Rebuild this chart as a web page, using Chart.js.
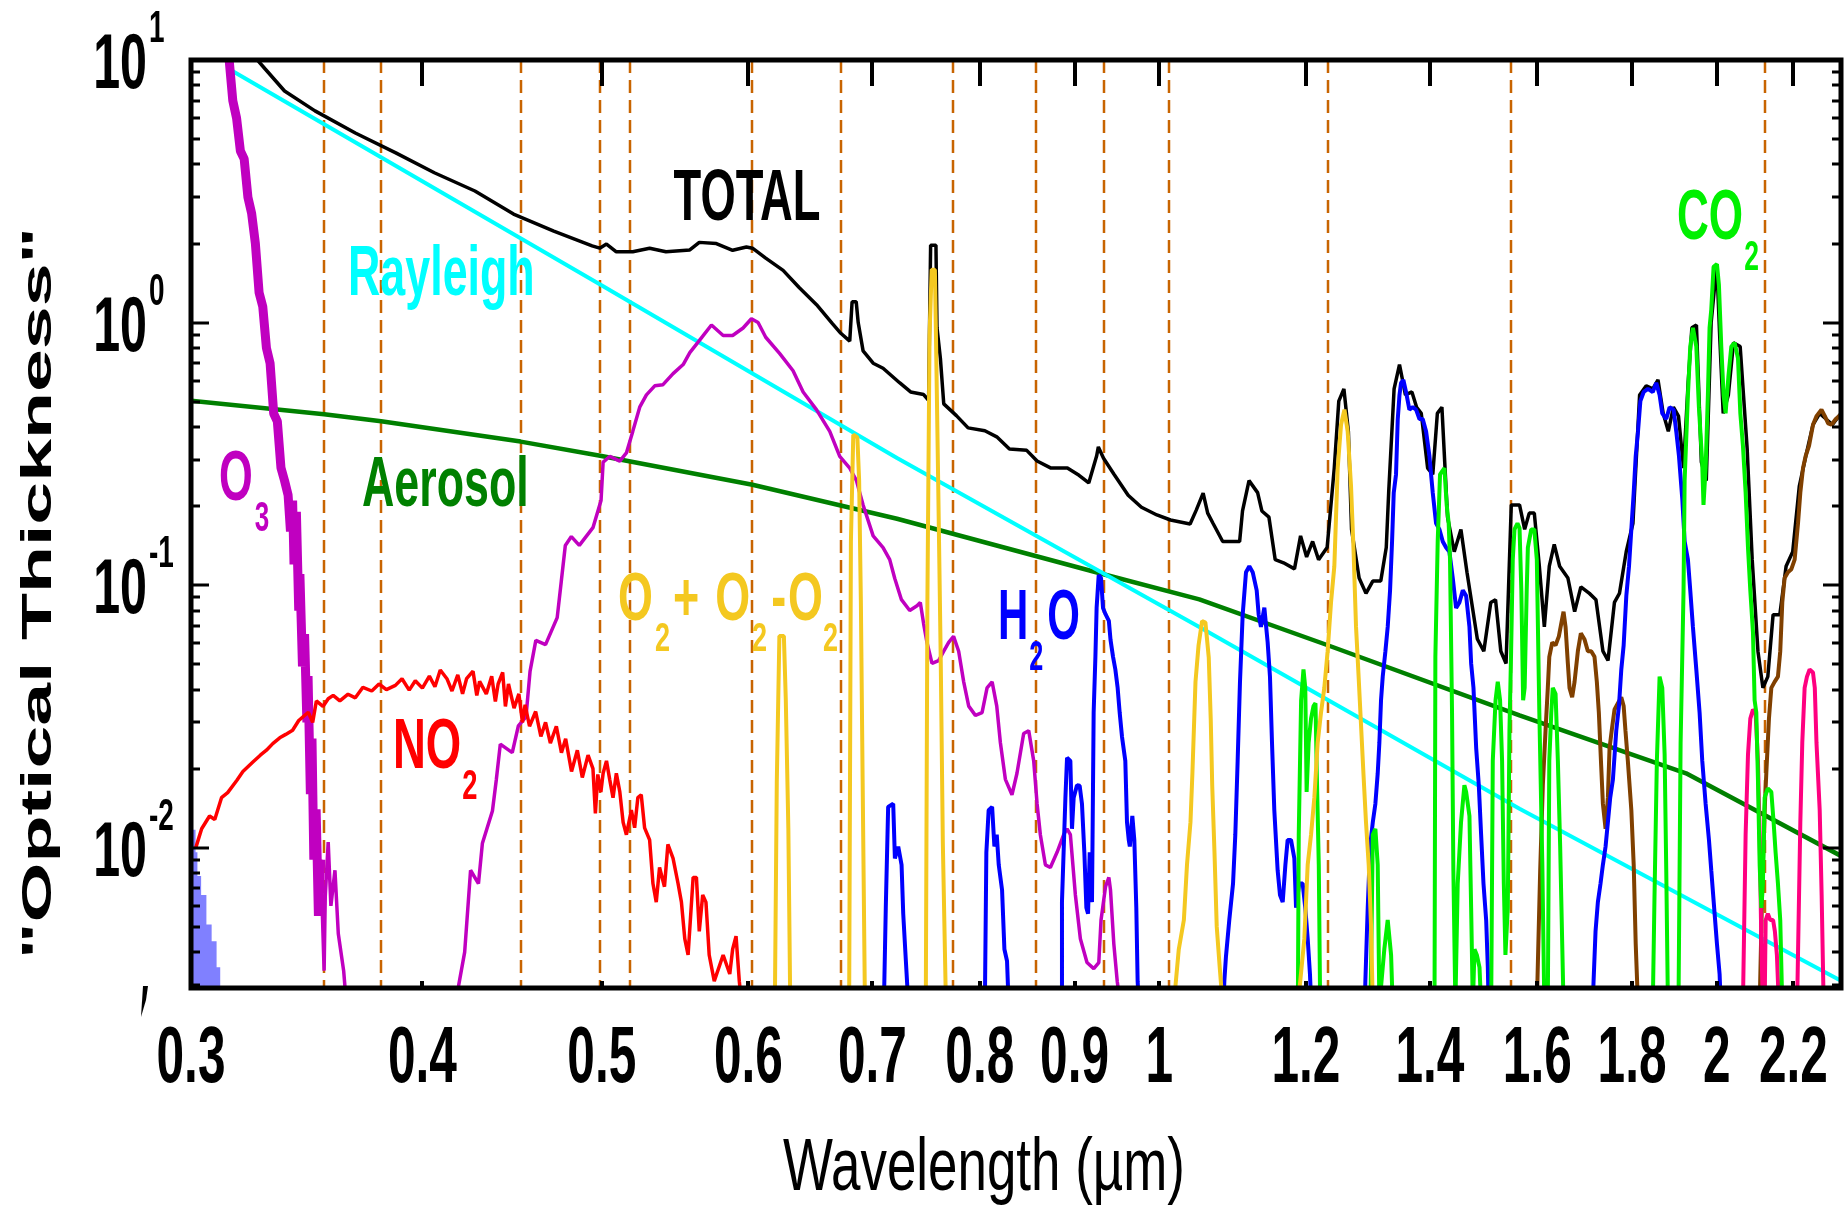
<!DOCTYPE html>
<html>
	<head>
		<meta charset="utf-8" />
		<script src="https://cdn.jsdelivr.net/npm/chart.js@4.4.0/dist/chart.umd.min.js"></script>
		<style>
			html, body { margin: 0; padding: 0; background: #fff; overflow: hidden; }
			#wrap { width: 1845px; height: 1207px; }
		</style>
		<title>Optical thickness spectrum</title>
	</head>
	<body>
		<div id="wrap"><canvas id="chart" width="1845" height="1207"></canvas></div>
		<script>
			// axis ranges (wavelength in um, optical thickness)
			const X_MIN = 0.3, X_MAX = 2.334;
			const Y_MIN = 0.00292, Y_MAX = 10;

			// tick values / labels
			const xTicks = [0.3, 0.4, 0.5, 0.6, 0.7, 0.8, 0.9, 1, 1.2, 1.4, 1.6, 1.8, 2, 2.2];
			const xTickLabels = ["0.3", "0.4", "0.5", "0.6", "0.7", "0.8", "0.9", "1", "1.2", "1.4", "1.6", "1.8", "2", "2.2"];
			const yMajor = [10, 1, 0.1, 0.01];
			const yExponents = ["1", "0", "-1", "-2"];
			const yMinor = [0.003, 0.004, 0.005, 0.006, 0.007, 0.008, 0.009,
				0.02, 0.03, 0.04, 0.05, 0.06, 0.07, 0.08, 0.09,
				0.2, 0.3, 0.4, 0.5, 0.6, 0.7, 0.8, 0.9,
				2, 3, 4, 5, 6, 7, 8, 9];

			// instrument channels (dashed lines)
			const channelWl = [0.354, 0.380, 0.452, 0.499, 0.518, 0.603, 0.673, 0.774, 0.858, 0.933, 1.012, 1.233, 1.549, 2.123];

			// series: [wavelength, optical thickness]
			const total = [[0.322, 11], [0.329, 9.24], [0.337, 7.62], [0.350, 6.40], [0.368, 5.27], [0.387, 4.43], [0.406, 3.72], [0.427, 3.17],
				[0.448, 2.59], [0.471, 2.23], [0.494, 1.96], [0.4987, 1.92], [0.5029, 1.99], [0.5091, 1.86], [0.5196, 1.86], [0.5306, 1.92],
				[0.5415, 1.86], [0.5578, 1.89], [0.5644, 2.02], [0.5765, 2.0], [0.5883, 1.885], [0.5985, 1.94], [0.603, 1.92], [0.613, 1.76],
				[0.6264, 1.58], [0.639, 1.36], [0.653, 1.17], [0.666, 0.99], [0.673, 0.91], [0.6805, 0.85], [0.6825, 1.20], [0.686, 1.20],
				[0.6877, 1.0], [0.6919, 0.78], [0.7006, 0.70], [0.7093, 0.67], [0.724, 0.59], [0.734, 0.544], [0.746, 0.532], [0.7506, 0.505],
				[0.7525, 1.97], [0.7575, 1.97], [0.7585, 0.955], [0.7617, 0.73], [0.7649, 0.49], [0.777, 0.442], [0.7884, 0.397], [0.805, 0.387],
				[0.817, 0.367], [0.830, 0.33], [0.848, 0.326], [0.859, 0.297], [0.874, 0.279], [0.892, 0.279], [0.905, 0.262], [0.916, 0.245],
				[0.925, 0.31], [0.927, 0.336], [0.933, 0.304], [0.945, 0.265], [0.962, 0.22], [0.978, 0.198], [0.997, 0.185], [1.014, 0.177],
				[1.039, 0.171], [1.047, 0.193], [1.056, 0.224], [1.062, 0.188], [1.069, 0.172], [1.082, 0.1466], [1.105, 0.1466], [1.109, 0.1916],
				[1.118, 0.25], [1.130, 0.225], [1.136, 0.1916], [1.146, 0.1815], [1.155, 0.125], [1.167, 0.1216], [1.183, 0.1153], [1.192, 0.154],
				[1.201, 0.128], [1.210, 0.1466], [1.219, 0.125], [1.232, 0.139], [1.243, 0.279], [1.250, 0.502], [1.258, 0.559], [1.265, 0.385],
				[1.270, 0.163], [1.282, 0.1064], [1.293, 0.093], [1.304, 0.1036], [1.317, 0.1036], [1.326, 0.139], [1.330, 0.225], [1.339, 0.559],
				[1.348, 0.692], [1.358, 0.53], [1.369, 0.544], [1.377, 0.476], [1.385, 0.451], [1.396, 0.279], [1.405, 0.264], [1.413, 0.451],
				[1.421, 0.476], [1.431, 0.1815], [1.443, 0.134], [1.455, 0.163], [1.466, 0.112], [1.485, 0.0623], [1.497, 0.056], [1.510, 0.0859],
				[1.519, 0.088], [1.529, 0.056], [1.539, 0.0503], [1.549, 0.202], [1.565, 0.202], [1.575, 0.163], [1.584, 0.188], [1.594, 0.188],
				[1.604, 0.118], [1.614, 0.0693], [1.624, 0.118], [1.634, 0.143], [1.645, 0.118], [1.662, 0.1064], [1.676, 0.0792], [1.689, 0.0985],
				[1.707, 0.093], [1.721, 0.088], [1.736, 0.056], [1.747, 0.0516], [1.761, 0.0859], [1.772, 0.093], [1.787, 0.134], [1.802, 0.172],
				[1.817, 0.53], [1.832, 0.574], [1.847, 0.559], [1.859, 0.605], [1.871, 0.451], [1.883, 0.385], [1.895, 0.476], [1.907, 0.44],
				[1.919, 0.279], [1.930, 0.59], [1.939, 0.955], [1.950, 0.979], [1.962, 0.294], [1.974, 0.25], [1.986, 1.0], [2.000, 1.67],
				[2.007, 0.906], [2.016, 0.451], [2.029, 0.53], [2.042, 0.838], [2.059, 0.81], [2.077, 0.33], [2.090, 0.125], [2.105, 0.056],
				[2.118, 0.0406], [2.131, 0.0448], [2.145, 0.0771], [2.163, 0.0771], [2.180, 0.118], [2.198, 0.134], [2.216, 0.2375], [2.234, 0.31],
				[2.254, 0.408], [2.273, 0.451], [2.291, 0.429], [2.309, 0.408], [2.334, 0.451], [2.36, 0.45]];

			const rayleigh = [[0.3145, 9.24], [0.4987, 1.40], [0.7217, 0.305], [1.051, 0.0693], [1.565, 0.01406], [2.334, 0.00311]];

			const aerosol = [[0.3, 0.504], [0.354, 0.447], [0.38, 0.421], [0.452, 0.352], [0.499, 0.311], [0.603, 0.241], [0.7217, 0.179],
				[0.933, 0.110], [1.051, 0.0882], [1.233, 0.059], [1.565, 0.0319], [1.925, 0.0192], [2.334, 0.0093]];

			const ozone = [[0.3145, 10.2], [0.316, 7.0], [0.3175, 6.0], [0.319, 4.5], [0.3205, 4.2], [0.322, 3.0], [0.3235, 2.6], [0.325, 2.0],
				[0.3265, 1.3], [0.328, 1.15], [0.3295, 0.80], [0.331, 0.70], [0.3325, 0.45], [0.334, 0.42], [0.3355, 0.28], [0.337, 0.25],
				[0.3385, 0.22], [0.3395, 0.16], [0.3404, 0.21], [0.341, 0.12], [0.342, 0.19], [0.343, 0.08], [0.3435, 0.11], [0.3446, 0.049],
				[0.3455, 0.065], [0.3465, 0.03], [0.347, 0.045], [0.348, 0.016], [0.3487, 0.026], [0.3495, 0.009], [0.3505, 0.014], [0.3515, 0.0055],
				[0.3525, 0.009], [0.354, 0.0034], [0.3545, 0.0065], [0.3558, 0.0105], [0.357, 0.006], [0.3588, 0.0082], [0.3603, 0.0047], [0.3627, 0.0034],
				[0.364, 0.0025], [0.417, 0.0025], [0.4185, 0.003], [0.4216, 0.004], [0.4247, 0.0082], [0.4289, 0.0073], [0.431, 0.0104], [0.4364, 0.0138],
				[0.4385, 0.0181], [0.4407, 0.0248], [0.4473, 0.023], [0.4507, 0.0291], [0.455, 0.0315], [0.4573, 0.0469], [0.4606, 0.0616], [0.4662, 0.0593],
				[0.473, 0.0752], [0.4754, 0.1032], [0.4778, 0.1416], [0.4814, 0.153], [0.4862, 0.1416], [0.4945, 0.1655], [0.4995, 0.21], [0.5008, 0.294],
				[0.5049, 0.309], [0.5113, 0.2965], [0.5155, 0.3187], [0.5196, 0.385], [0.5241, 0.476], [0.5285, 0.53], [0.534, 0.574], [0.5395, 0.58],
				[0.5463, 0.639], [0.5532, 0.692], [0.5578, 0.768], [0.5644, 0.853], [0.573, 0.979], [0.5814, 0.893], [0.5883, 0.893], [0.596, 0.953],
				[0.6022, 1.034], [0.6072, 1.0], [0.613, 0.879], [0.6238, 0.761], [0.6342, 0.655], [0.6422, 0.544], [0.6529, 0.466], [0.6638, 0.385],
				[0.6721, 0.309], [0.6805, 0.279], [0.6862, 0.25], [0.6919, 0.202], [0.7006, 0.154], [0.7093, 0.139], [0.7152, 0.125], [0.7197, 0.106],
				[0.7257, 0.088], [0.7332, 0.080], [0.7399, 0.0834], [0.7429, 0.0859], [0.746, 0.0712], [0.7491, 0.0605], [0.7538, 0.0503], [0.760, 0.0516],
				[0.7649, 0.056], [0.7696, 0.0605], [0.7743, 0.0638], [0.7792, 0.056], [0.7841, 0.0428], [0.789, 0.0346], [0.7956, 0.0319], [0.8022, 0.0327],
				[0.8072, 0.0406], [0.8123, 0.0428], [0.817, 0.0346], [0.8207, 0.0251], [0.8258, 0.0182], [0.8326, 0.0159], [0.8378, 0.0192], [0.8448, 0.0272],
				[0.8501, 0.0279], [0.8554, 0.0214], [0.859, 0.0147], [0.8625, 0.0112], [0.8679, 0.0086], [0.8733, 0.0084], [0.8806, 0.0096], [0.8879, 0.0112],
				[0.8916, 0.0118], [0.8953, 0.0112], [0.9009, 0.0066], [0.9065, 0.0045], [0.914, 0.00365], [0.9217, 0.00346], [0.9275, 0.00365], [0.9301, 0.0053],
				[0.9353, 0.0071], [0.9392, 0.0077], [0.9411, 0.0069], [0.945, 0.0043], [0.949, 0.0031], [0.9529, 0.0025]];

			const no2 = [[0.3018, 0.0100], [0.3040, 0.0118], [0.3070, 0.0132], [0.309, 0.0128], [0.3116, 0.0155], [0.314, 0.0162], [0.3177, 0.0181],
				[0.320, 0.0195], [0.3240, 0.0212], [0.327, 0.0225], [0.3295, 0.0235], [0.3321, 0.0249], [0.335, 0.0262], [0.3375, 0.0270], [0.3404, 0.028],
				[0.343, 0.0305], [0.3471, 0.0328], [0.349, 0.0300], [0.3506, 0.0362], [0.3535, 0.0345], [0.3558, 0.0369], [0.358, 0.0380], [0.361, 0.0362],
				[0.3647, 0.0384], [0.368, 0.0372], [0.3715, 0.0408], [0.3756, 0.0395], [0.379, 0.0420], [0.3825, 0.0400], [0.3868, 0.0415], [0.390, 0.0440],
				[0.3935, 0.0398], [0.3965, 0.0432], [0.400, 0.0405], [0.4035, 0.0450], [0.4063, 0.0410], [0.409, 0.0475], [0.4124, 0.0440], [0.415, 0.0395],
				[0.418, 0.0455], [0.4205, 0.0385], [0.4226, 0.0440], [0.426, 0.0470], [0.428, 0.0380], [0.4295, 0.0430], [0.4331, 0.0385], [0.436, 0.0450],
				[0.438, 0.0360], [0.4395, 0.0420], [0.442, 0.0465], [0.4435, 0.0345], [0.4452, 0.0420], [0.4483, 0.0340], [0.451, 0.0385], [0.453, 0.0300],
				[0.4545, 0.0350], [0.457, 0.0290], [0.4605, 0.0330], [0.4635, 0.0265], [0.4662, 0.0300], [0.469, 0.0250], [0.4725, 0.0290], [0.4755, 0.0230],
				[0.478, 0.0260], [0.4815, 0.0195], [0.4850, 0.0235], [0.488, 0.0185], [0.4915, 0.0225], [0.4945, 0.0200], [0.4960, 0.0135], [0.4975, 0.0190],
				[0.4994, 0.0163], [0.5008, 0.0192], [0.5029, 0.0214], [0.5049, 0.0182], [0.507, 0.0155], [0.5091, 0.0192], [0.5113, 0.0163], [0.5134, 0.0125],
				[0.5155, 0.0112], [0.5187, 0.0139], [0.5208, 0.0119], [0.5229, 0.0155], [0.5251, 0.0159], [0.5273, 0.0119], [0.5306, 0.0107], [0.5328, 0.0073],
				[0.535, 0.0062], [0.5372, 0.0084], [0.5405, 0.0071], [0.5428, 0.0103], [0.5463, 0.0091], [0.5497, 0.0073], [0.552, 0.0062], [0.5543, 0.0045],
				[0.5566, 0.0039], [0.5601, 0.0077], [0.5624, 0.0077], [0.5644, 0.0048], [0.5668, 0.0066], [0.5691, 0.0062], [0.5714, 0.0039], [0.575, 0.0031],
				[0.5814, 0.0039], [0.5862, 0.0033], [0.5883, 0.0041], [0.5908, 0.0046], [0.5932, 0.0031], [0.595, 0.0025]];

			const o2 = [[0.620, 0.0025], [0.6215, 0.0177], [0.6235, 0.064], [0.627, 0.064], [0.6285, 0.0365], [0.6305, 0.0118], [0.632, 0.0025],
				[0.680, 0.0025], [0.6815, 0.147], [0.6835, 0.374], [0.687, 0.365], [0.6885, 0.25], [0.690, 0.0859], [0.6915, 0.0182], [0.6935, 0.0025],
				[0.748, 0.0025], [0.7495, 0.088], [0.7515, 0.9], [0.7535, 1.59], [0.7565, 1.59], [0.7575, 0.9], [0.7595, 0.264], [0.762, 0.053],
				[0.764, 0.0105], [0.767, 0.0025], [1.018, 0.0025], [1.0245, 0.0041], [1.031, 0.0053], [1.035, 0.0086], [1.0395, 0.0125], [1.042, 0.0192],
				[1.046, 0.0428], [1.050, 0.059], [1.0546, 0.073], [1.059, 0.072], [1.0634, 0.053], [1.066, 0.031], [1.068, 0.0172], [1.071, 0.0096],
				[1.074, 0.005], [1.078, 0.0035], [1.082, 0.0025], [1.188, 0.0025], [1.1976, 0.0045], [1.2026, 0.0086], [1.2076, 0.0112], [1.2126, 0.0155],
				[1.2176, 0.0251], [1.2227, 0.0327], [1.2277, 0.0406], [1.2328, 0.056], [1.238, 0.0859], [1.2431, 0.118], [1.2483, 0.279], [1.2535, 0.408],
				[1.2588, 0.466], [1.2639, 0.385], [1.2692, 0.2375], [1.273, 0.139], [1.2771, 0.0693], [1.2812, 0.0448], [1.285, 0.0295], [1.2889, 0.0192],
				[1.293, 0.0125], [1.2974, 0.0086], [1.3012, 0.005], [1.304, 0.0025]];

			const h2o = [[0.710, 0.0025], [0.7117, 0.0059], [0.7138, 0.0143], [0.7183, 0.0147], [0.7198, 0.0091], [0.7228, 0.0101], [0.7258, 0.0086],
				[0.7273, 0.0056], [0.7297, 0.0037], [0.732, 0.0025], [0.805, 0.0025], [0.8065, 0.0096], [0.8088, 0.0139], [0.8123, 0.0143], [0.8146, 0.0101],
				[0.817, 0.0112], [0.819, 0.0086], [0.8224, 0.0069], [0.8248, 0.0041], [0.8275, 0.0037], [0.8292, 0.0025], [0.885, 0.0025], [0.886, 0.0062],
				[0.8898, 0.0155], [0.8916, 0.022], [0.8953, 0.0214], [0.8971, 0.0118], [0.899, 0.0155], [0.9027, 0.0173], [0.9057, 0.0172], [0.9083, 0.0147],
				[0.911, 0.0096], [0.9133, 0.0059], [0.9152, 0.0056], [0.9171, 0.0096], [0.9197, 0.0062], [0.9216, 0.0327], [0.9236, 0.0533], [0.925, 0.0818],
				[0.9274, 0.1092], [0.9301, 0.1064], [0.9324, 0.0818], [0.9353, 0.0775], [0.9392, 0.0731], [0.9411, 0.062], [0.9441, 0.0533], [0.9468, 0.0477],
				[0.9495, 0.0406], [0.9519, 0.0327], [0.9547, 0.0264], [0.9586, 0.0214], [0.9606, 0.0125], [0.9627, 0.0107], [0.964, 0.0101], [0.967, 0.0132],
				[0.9694, 0.0107], [0.9718, 0.0059], [0.9734, 0.0031], [0.975, 0.0025], [1.083, 0.0025], [1.0842, 0.0031], [1.0864, 0.00385], [1.0909, 0.0053],
				[1.096, 0.0073], [1.0991, 0.0112], [1.1023, 0.0214], [1.1055, 0.0428], [1.1092, 0.0771], [1.1138, 0.112], [1.1184, 0.118], [1.1231, 0.112],
				[1.1287, 0.0955], [1.1315, 0.0771], [1.1347, 0.0693], [1.1395, 0.082], [1.1442, 0.0605], [1.1475, 0.0448], [1.1504, 0.0251], [1.1537, 0.0139],
				[1.1585, 0.0082], [1.1619, 0.0066], [1.1658, 0.0062], [1.1697, 0.0086], [1.173, 0.0107], [1.1779, 0.0107], [1.1828, 0.0091], [1.1853, 0.0059],
				[1.190, 0.0073], [1.1951, 0.0073], [1.199, 0.0059], [1.2026, 0.0045], [1.206, 0.0033], [1.208, 0.0025], [1.291, 0.0025], [1.292, 0.0031],
				[1.2958, 0.0059], [1.2996, 0.0101], [1.304, 0.0125], [1.3082, 0.0147], [1.312, 0.0192], [1.3147, 0.0251], [1.3174, 0.0364], [1.3202, 0.0448],
				[1.3246, 0.056], [1.3284, 0.0693], [1.3323, 0.0955], [1.3356, 0.1466], [1.3384, 0.225], [1.3422, 0.264], [1.3451, 0.429], [1.348, 0.53],
				[1.3506, 0.589], [1.3545, 0.605], [1.359, 0.544], [1.3647, 0.466], [1.3704, 0.476], [1.3761, 0.466], [1.3819, 0.429], [1.3875, 0.429],
				[1.3933, 0.385], [1.3991, 0.31], [1.4049, 0.225], [1.4107, 0.172], [1.4166, 0.163], [1.4225, 0.1466], [1.4284, 0.139], [1.4343, 0.134],
				[1.4403, 0.1064], [1.4463, 0.0818], [1.4523, 0.0859], [1.4584, 0.0955], [1.4645, 0.091], [1.4705, 0.0693], [1.4736, 0.0503], [1.4779, 0.0406],
				[1.4829, 0.0239], [1.4877, 0.0173], [1.492, 0.0112], [1.4964, 0.0073], [1.5014, 0.0053], [1.5045, 0.0035], [1.506, 0.0025], [1.714, 0.0025],
				[1.7159, 0.0031], [1.7201, 0.0048], [1.7251, 0.0062], [1.7308, 0.0073], [1.7359, 0.0086], [1.7417, 0.0101], [1.7467, 0.0125], [1.7518, 0.0155],
				[1.7577, 0.0182], [1.765, 0.0279], [1.7709, 0.0346], [1.7761, 0.0477], [1.7813, 0.059], [1.7872, 0.091], [1.7932, 0.118], [1.7984, 0.163],
				[1.8037, 0.225], [1.8082, 0.31], [1.8134, 0.385], [1.8187, 0.502], [1.8262, 0.544], [1.836, 0.559], [1.847, 0.544], [1.855, 0.589],
				[1.8627, 0.53], [1.8689, 0.451], [1.8782, 0.429], [1.886, 0.476], [1.8954, 0.466], [1.9017, 0.385], [1.9081, 0.31], [1.916, 0.213],
				[1.9216, 0.1466], [1.9295, 0.125], [1.9351, 0.0955], [1.9415, 0.0693], [1.9497, 0.0477], [1.9577, 0.0327], [1.9642, 0.0214], [1.9724, 0.0147],
				[1.9806, 0.0107], [1.9863, 0.0082], [1.9946, 0.0056], [2.0004, 0.0043], [2.007, 0.0033], [2.01, 0.0025]];

			const co2 = [[1.188, 0.0025], [1.1893, 0.0112], [1.1928, 0.0364], [1.1963, 0.0477], [1.199, 0.0406], [1.201, 0.0163], [1.204, 0.0251],
				[1.2076, 0.031], [1.2113, 0.0346], [1.2143, 0.0355], [1.2163, 0.0192], [1.2193, 0.0086], [1.2214, 0.0025], [1.300, 0.0025], [1.3012, 0.0035],
				[1.304, 0.0112], [1.3082, 0.0118], [1.312, 0.0086], [1.3147, 0.0025], [1.3228, 0.0041], [1.3284, 0.0053], [1.334, 0.0039], [1.3367, 0.0025],
				[1.408, 0.0025], [1.4095, 0.0533], [1.4136, 0.1466], [1.4177, 0.264], [1.4254, 0.279], [1.4295, 0.202], [1.433, 0.172], [1.4354, 0.125],
				[1.439, 0.0327], [1.4414, 0.0082], [1.445, 0.0025], [1.4492, 0.0073], [1.4552, 0.0125], [1.4613, 0.0173], [1.4645, 0.0163], [1.4705, 0.0132],
				[1.4736, 0.0059], [1.4767, 0.0025], [1.4798, 0.0041], [1.4841, 0.0039], [1.489, 0.0035], [1.492, 0.0025], [1.5108, 0.0025], [1.5138, 0.0214],
				[1.519, 0.0364], [1.5232, 0.0428], [1.5276, 0.0364], [1.5314, 0.0214], [1.5347, 0.0073], [1.5378, 0.0039], [1.5423, 0.0059], [1.5455, 0.0279],
				[1.5487, 0.056], [1.5519, 0.125], [1.5552, 0.163], [1.561, 0.172], [1.565, 0.165], [1.5685, 0.0955], [1.572, 0.0364], [1.575, 0.0406],
				[1.579, 0.0955], [1.5813, 0.139], [1.5879, 0.163], [1.594, 0.163], [1.599, 0.125], [1.604, 0.0327], [1.610, 0.0086], [1.614, 0.0025],
				[1.621, 0.0025], [1.624, 0.0214], [1.628, 0.0327], [1.631, 0.0406], [1.6367, 0.0385], [1.6414, 0.0214], [1.6461, 0.0101], [1.6503, 0.0043],
				[1.653, 0.0025], [1.847, 0.0025], [1.851, 0.0066], [1.8564, 0.0214], [1.8627, 0.0448], [1.8689, 0.0406], [1.8744, 0.0226], [1.8782, 0.0082],
				[1.8821, 0.0025], [1.907, 0.0025], [1.912, 0.0251], [1.919, 0.0955], [1.9216, 0.25], [1.9295, 0.53], [1.9351, 0.81], [1.9415, 0.955],
				[1.9497, 0.81], [1.956, 0.476], [1.964, 0.294], [1.9672, 0.202], [1.9724, 0.279], [1.978, 0.53], [1.9821, 0.955], [1.9863, 1.12],
				[1.992, 1.63], [2.0004, 1.67], [2.0053, 1.39], [2.0112, 0.81], [2.017, 0.53], [2.022, 0.451], [2.029, 0.62], [2.0364, 0.81],
				[2.0448, 0.838], [2.0534, 0.73], [2.0594, 0.451], [2.0661, 0.339], [2.073, 0.225], [2.0791, 0.139], [2.0851, 0.0955], [2.092, 0.066],
				[2.0963, 0.0364], [2.1007, 0.0327], [2.105, 0.0182], [2.1095, 0.0086], [2.1139, 0.0059], [2.118, 0.0073], [2.1226, 0.0155], [2.131, 0.0168],
				[2.1403, 0.0163], [2.1464, 0.0125], [2.1517, 0.0096], [2.158, 0.0073], [2.1642, 0.0053], [2.1697, 0.0025]];

			const ch4Band = [[1.599, 0.0025], [1.6057, 0.0082], [1.611, 0.0173], [1.6164, 0.0279], [1.621, 0.0406], [1.624, 0.0533], [1.630, 0.0605],
				[1.6367, 0.059], [1.6434, 0.0638], [1.6482, 0.0712], [1.653, 0.0792], [1.6572, 0.0693], [1.6619, 0.0503], [1.6653, 0.0406], [1.6708, 0.0374],
				[1.6758, 0.0428], [1.6827, 0.056], [1.689, 0.0655], [1.6968, 0.062], [1.7038, 0.056], [1.7109, 0.056], [1.7179, 0.0533], [1.7229, 0.0428],
				[1.7272, 0.0327], [1.7323, 0.0203], [1.7359, 0.0147], [1.7417, 0.0118], [1.7467, 0.0155], [1.7503, 0.0239], [1.7559, 0.0287], [1.7612, 0.0336],
				[1.7686, 0.0355], [1.7761, 0.0374], [1.7813, 0.0346], [1.7853, 0.0279], [1.7906, 0.0214], [1.7984, 0.0139], [1.8037, 0.0086], [1.8082, 0.0043],
				[1.8134, 0.0025], [2.1095, 0.0025], [2.1165, 0.0073], [2.1226, 0.0139], [2.127, 0.0192], [2.134, 0.031], [2.1403, 0.0406], [2.149, 0.0428],
				[2.158, 0.0448], [2.1642, 0.056], [2.1697, 0.0859], [2.176, 0.1064], [2.185, 0.112], [2.1943, 0.115], [2.2033, 0.125], [2.2125, 0.172],
				[2.2189, 0.225], [2.2263, 0.279], [2.2336, 0.31], [2.243, 0.339], [2.2541, 0.408], [2.2639, 0.44], [2.278, 0.466], [2.2876, 0.44],
				[2.297, 0.413], [2.3065, 0.408], [2.319, 0.429], [2.3345, 0.447], [2.36, 0.45]];

			const n2oBand = [[2.066, 0.0025], [2.073, 0.0112], [2.0791, 0.0226], [2.0851, 0.031], [2.092, 0.0336], [2.0988, 0.0327], [2.105, 0.0214],
				[2.1095, 0.0112], [2.1139, 0.0043], [2.118, 0.0025], [2.1226, 0.0025], [2.1253, 0.0053], [2.131, 0.0056], [2.1375, 0.0053], [2.145, 0.0053],
				[2.1498, 0.0048], [2.1552, 0.0039], [2.1606, 0.0025], [2.210, 0.0025], [2.2189, 0.0125], [2.2243, 0.0251], [2.2308, 0.0406], [2.2373, 0.0448],
				[2.2447, 0.0477], [2.2541, 0.0465], [2.2592, 0.0406], [2.2639, 0.0251], [2.273, 0.0139], [2.2785, 0.0066], [2.2843, 0.0025]];

			const uvShade = [[0.300, 0.0125], [0.3017, 0.0117], [0.3024, 0.0096], [0.3038, 0.0078], [0.3058, 0.0066], [0.3078, 0.0051],
				[0.3097, 0.0044], [0.3111, 0.0035], [0.3118, 0.0025]];

			const FONT = '"Liberation Sans", Arial, sans-serif';

			function pts(arr) {
				return arr.map(([x, y]) => ({ x: x, y: y }));
			}
			function lineSet(arr, color, width) {
				return {
					data: pts(arr),
					borderColor: color,
					borderWidth: width,
					pointRadius: 0,
					fill: false,
					tension: 0,
					borderJoinStyle: "bevel",
					clip: 0,
				};
			}

			// squeezed text, the original figure is strongly compressed sideways
			function sText(c, text, x, y, size, color, sx, align, bold) {
				c.save();
				c.translate(x, y);
				c.scale(sx, 1);
				c.font = (bold ? "bold " : "") + size + "px " + FONT;
				c.fillStyle = color;
				c.textAlign = align;
				c.textBaseline = "alphabetic";
				c.fillText(text, 0, 0);
				c.restore();
			}
			// label with subscripts: parts = [text, isSub, gapBefore]
			function richLabel(c, parts, x, y, color, size, sx) {
				let cx = x;
				for (const [text, sub, gap] of parts) {
					cx += gap || 0;
					const fs = sub ? Math.round(size * 0.6) : size;
					c.save();
					c.font = "bold " + fs + "px " + FONT;
					const w = c.measureText(text).width * sx;
					c.restore();
					sText(c, text, cx, sub ? y + 31 : y, fs, color, sx, "left", true);
					cx += w;
				}
			}

			const decor = {
				id: "decor",
				beforeDatasetsDraw(chart) {
					const c = chart.ctx, a = chart.chartArea, xs = chart.scales.x;
					c.save();
					c.strokeStyle = "#c86400";
					c.lineWidth = 2.5;
					c.setLineDash([13, 7]);
					for (const wl of channelWl) {
						const px = Math.round(xs.getPixelForValue(wl));
						c.beginPath();
						c.moveTo(px, a.top);
						c.lineTo(px, a.bottom);
						c.stroke();
					}
					c.restore();
				},
				afterDraw(chart) {
					const c = chart.ctx, a = chart.chartArea;
					const xs = chart.scales.x, ys = chart.scales.y;
					c.save();
					c.strokeStyle = "#000";
					// ticks
					c.lineWidth = 3;
					c.beginPath();
					for (const v of yMajor) {
						const py = Math.round(ys.getPixelForValue(v));
						c.moveTo(a.left, py); c.lineTo(a.left + 18, py);
						c.moveTo(a.right, py); c.lineTo(a.right - 18, py);
					}
					for (const v of yMinor) {
						const py = Math.round(ys.getPixelForValue(v));
						c.moveTo(a.left, py); c.lineTo(a.left + 9, py);
						c.moveTo(a.right, py); c.lineTo(a.right - 9, py);
					}
					c.stroke();
					c.lineWidth = 4;
					c.beginPath();
					for (const v of xTicks) {
						const px = Math.round(xs.getPixelForValue(v));
						if (px <= a.left + 3) continue;
						c.moveTo(px, a.top); c.lineTo(px, a.top + 26);
						c.moveTo(px, a.bottom); c.lineTo(px, a.bottom - 7);
					}
					c.stroke();
					// frame
					c.lineWidth = 5;
					c.strokeRect(a.left, a.top, a.right - a.left, a.bottom - a.top);
					// stray stroke left of the lower corner, as in the original
					c.beginPath();
					c.moveTo(143, 986); c.lineTo(148, 986); c.lineTo(146, 1000); c.lineTo(141, 1017);
					c.closePath();
					c.fillStyle = "#000";
					c.fill();
					c.restore();

					// tick labels
					xTicks.forEach((v, i) => {
						sText(c, xTickLabels[i], xs.getPixelForValue(v), 1082, 80, "#000", 0.62, "center", true);
					});
					yMajor.forEach((v, i) => {
						const py = ys.getPixelForValue(v);
						sText(c, "10", 147, py + 28, 78, "#000", 0.62, "right", true);
						sText(c, yExponents[i], 149, py - 18, 45, "#000", 0.62, "left", true);
					});

					// axis titles
					sText(c, "Wavelength (\u00b5m)", 984, 1190, 74, "#000", 0.715, "center", false);
					c.save();
					c.translate(51, 593);
					c.rotate(-Math.PI / 2);
					c.scale(1, 0.55);
					c.font = "bold 77px " + FONT;
					c.fillStyle = "#000";
					c.textAlign = "center";
					c.textBaseline = "alphabetic";
					c.fillText("\"Optical Thickness\"", 0, 0);
					c.restore();

					// curve labels
					sText(c, "TOTAL", 747, 220, 72, "#000", 0.63, "center", true);
					sText(c, "Rayleigh", 348, 295, 70, "#00ffff", 0.64, "left", true);
					sText(c, "Aerosol", 362, 506, 70, "#008000", 0.64, "left", true);
					richLabel(c, [["O", 0, 0], ["3", 1, 2]], 219, 500, "#c000c0", 70, 0.62);
					richLabel(c, [["NO", 0, 0], ["2", 1, 1]], 393, 768, "#ff0000", 70, 0.65);
					richLabel(c, [["O", 0, 0], ["2", 1, 2], ["+", 0, 3], ["O", 0, 16], ["2", 1, 2], ["-", 0, 4], ["O", 0, 2], ["2", 1, 0]],
						618, 620, "#f4c820", 68, 0.66);
					richLabel(c, [["H", 0, 0], ["2", 1, 1], ["O", 0, 4]], 998, 639, "#0000ff", 70, 0.6);
					richLabel(c, [["CO", 0, 0], ["2", 1, 1]], 1677, 239, "#00f000", 70, 0.63);
				},
			};

			// first dataset is drawn on top
			const ozoneSet = lineSet(ozone, "#c000c0", 3.5);
			// the steep UV edge is drawn as a heavy band in the original
			ozoneSet.segment = { borderWidth: (s) => (s.p0.parsed.x < 0.352 ? 9 : undefined) };

			const datasets = [
				lineSet(o2, "#f4c820", 4),
				lineSet(co2, "#00f000", 4),
				lineSet(h2o, "#0000ff", 4),
				lineSet(n2oBand, "#ff0080", 4),
				lineSet(ch4Band, "#804000", 4),
				lineSet(no2, "#ff0000", 3.5),
				ozoneSet,
				lineSet(total, "#000000", 3.5),
				lineSet(rayleigh, "#00ffff", 4),
				lineSet(aerosol, "#008000", 4.5),
				{
					data: pts(uvShade),
					borderWidth: 0,
					borderColor: "#8080ff",
					backgroundColor: "#8080ff",
					pointRadius: 0,
					stepped: "after",
					fill: "start",
					clip: 0,
				},
			];

			new Chart(document.getElementById("chart").getContext("2d"), {
				type: "line",
				data: { datasets: datasets },
				options: {
					responsive: false,
					animation: false,
					layout: { padding: { left: 191, right: 4, top: 60, bottom: 219 } },
					plugins: { legend: { display: false }, tooltip: { enabled: false } },
					scales: {
						x: { type: "logarithmic", min: X_MIN, max: X_MAX, display: false },
						y: { type: "logarithmic", min: Y_MIN, max: Y_MAX, display: false },
					},
				},
				plugins: [decor],
			});
		</script>
	</body>
</html>
